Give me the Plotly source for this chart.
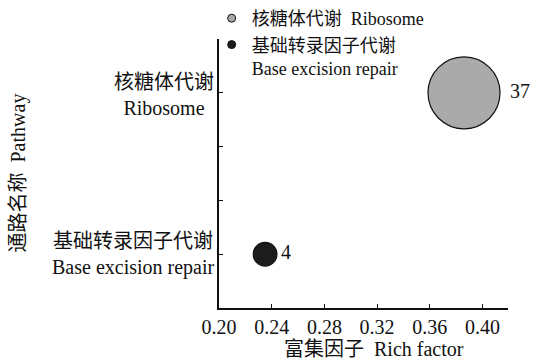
import plotly.graph_objects as go

# Enrichment results
pathway_cn = ["核糖体代谢", "基础转录因子代谢"]
pathway_en = ["Ribosome", "Base excision repair"]
rich_factor = [0.386, 0.235]
gene_count = [37, 4]
pathway_pos = [4, 1]
fill_colors = ["#aaaaaa", "#1c1c1c"]

x_ticks = [0.20, 0.24, 0.28, 0.32, 0.36, 0.40]
y_ticks = [1, 2, 3, 4, 5]

FONT = "Liberation Serif, Noto Sans CJK SC, serif"
INK = "#111111"
max_diam = 72
sizeref = 2.0 * max(gene_count) / max_diam ** 2

ML, MR, MT, MB = 219, 32, 39, 54
W, H = 540, 362
plot_w = W - ML - MR
plot_h = H - MT - MB

fig = go.Figure()

for cn, en, xv, n, yp, col in zip(pathway_cn, pathway_en, rich_factor,
                                  gene_count, pathway_pos, fill_colors):
    # bubble sized by gene count
    fig.add_trace(go.Scatter(
        x=[xv], y=[yp], mode="markers+text",
        text=[str(n)], textposition="middle right",
        textfont=dict(family=FONT, size=20, color=INK),
        marker=dict(size=[n], sizemode="area", sizeref=sizeref, opacity=1,
                    color=col, line=dict(color=INK, width=1.2)),
        showlegend=False, cliponaxis=False, hoverinfo="skip",
    ))

# small legend symbols
legend_names = ["核糖体代谢  Ribosome", "基础转录因子代谢<br>Base excision repair"]
legend_sizes = [8, 8]
for name, col, s in zip(legend_names, fill_colors, legend_sizes):
    fig.add_trace(go.Scatter(
        x=[None], y=[None], mode="markers", name=name,
        marker=dict(size=s, color=col, opacity=1, line=dict(color=INK, width=1)),
    ))

# pathway labels on the y axis
for cn, en, yp in zip(pathway_cn, pathway_en, pathway_pos):
    fig.add_annotation(
        x=0, xref="paper", y=yp, yref="y", xanchor="right", yanchor="middle",
        xshift=-3, yshift=-2 if yp > 2 else 0,
        text=f"{cn}<br>{en}", showarrow=False, align="center",
        font=dict(family=FONT, size=20, color=INK),
    )

# y axis title, rotated, near the left edge
fig.add_annotation(
    x=-(ML - 18) / plot_w, xref="paper", y=0.5, yref="paper",
    text="通路名称  Pathway", textangle=-90, showarrow=False,
    xanchor="center", yanchor="middle",
    font=dict(family=FONT, size=20, color=INK),
)

# x axis title below the tick labels
fig.add_annotation(
    x=(374 - ML) / plot_w, xref="paper", y=-(349 - (H - MB)) / plot_h, yref="paper",
    text="富集因子  Rich factor", showarrow=False,
    xanchor="center", yanchor="middle",
    font=dict(family=FONT, size=20, color=INK),
)

fig.update_layout(
    width=W, height=H,
    margin=dict(l=ML, r=MR, t=MT, b=MB, autoexpand=False),
    paper_bgcolor="white", plot_bgcolor="white",
    font=dict(family=FONT, size=20, color=INK),
    showlegend=True,
    legend=dict(
        xref="container", yref="container", x=0.392, y=1.005,
        xanchor="left", yanchor="top", valign="top",
        font=dict(family=FONT, size=18, color=INK),
        bgcolor="rgba(0,0,0,0)", itemsizing="trace",
        tracegroupgap=0,
    ),
    xaxis=dict(
        range=[0.20, 0.4194], tickvals=x_ticks,
        ticktext=[f"{v:.2f}" for v in x_ticks],
        showline=True, linecolor=INK, linewidth=1.5,
        ticks="inside", ticklen=4, tickwidth=1.2, tickcolor=INK,
        showgrid=False, zeroline=False, automargin=False,
        tickfont=dict(family=FONT, size=20, color=INK),
    ),
    yaxis=dict(
        range=[0, 5], tickvals=y_ticks, ticktext=[""] * len(y_ticks),
        showline=True, linecolor=INK, linewidth=1.5,
        ticks="inside", ticklen=4, tickwidth=1.2, tickcolor=INK,
        showgrid=False, zeroline=False, automargin=False,
    ),
)

fig.write_html("out.html")
